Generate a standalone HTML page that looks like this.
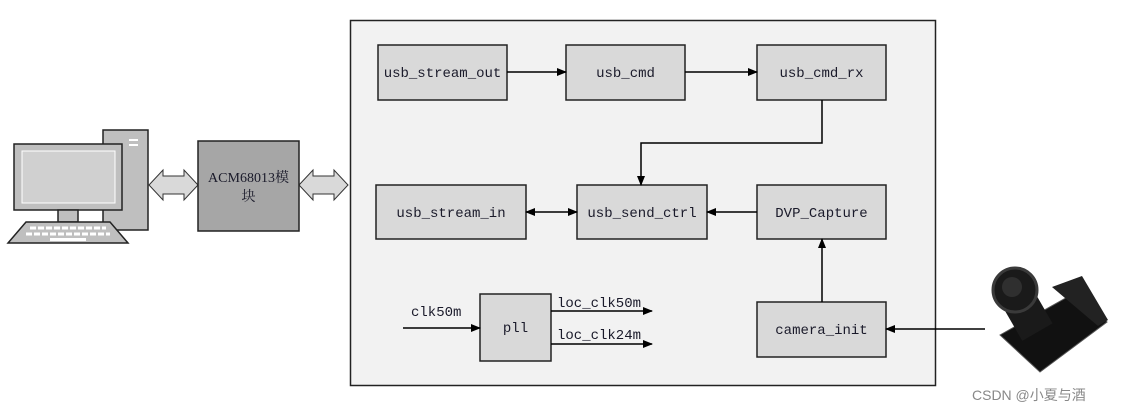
<!DOCTYPE html>
<html><head><meta charset="utf-8"><style>
body{margin:0;background:#fff;width:1123px;height:411px;overflow:hidden}
svg text{font-family:"Liberation Mono","Noto Serif CJK SC",monospace;font-size:14px;fill:#1a1a2a}
</style></head><body>
<svg width="1123" height="411" viewBox="0 0 1123 411" xmlns="http://www.w3.org/2000/svg">
<defs><marker id="a" markerWidth="10" markerHeight="8" refX="9" refY="4" orient="auto" markerUnits="userSpaceOnUse"><path d="M0,0 L10,4 L0,8 z" fill="#000"/></marker>
<marker id="b" markerWidth="10" markerHeight="8" refX="1" refY="4" orient="auto" markerUnits="userSpaceOnUse"><path d="M10,0 L0,4 L10,8 z" fill="#000"/></marker></defs>
<rect x="103" y="130" width="45" height="100" fill="#bfbfbf" stroke="#222" stroke-width="1.5"/>
<rect x="129" y="139" width="9" height="2" fill="#fff"/><rect x="129" y="144" width="9" height="2" fill="#fff"/>
<rect x="14" y="144" width="108" height="66" fill="#bfbfbf" stroke="#222" stroke-width="1.5"/>
<rect x="22" y="151" width="93" height="52" fill="#d0d0d0" stroke="#fff" stroke-width="1"/>
<rect x="58" y="210" width="20" height="12" fill="#bfbfbf" stroke="#222" stroke-width="1.5"/>
<path d="M26,222 L110,222 L128,243 L8,243 Z" fill="#bfbfbf" stroke="#222" stroke-width="1.5"/>
<path d="M30,228 L106,228 M26,234 L110,234" stroke="#fff" stroke-width="3" stroke-dasharray="6,2"/>
<rect x="50" y="238" width="36" height="3" fill="#fff"/>
<path d="M149,185 L163,170 L163,176 L184,176 L184,170 L198,185 L184,200 L184,194 L163,194 L163,200 Z" fill="#d9d9d9" stroke="#333"/>
<path d="M299,185 L313,170 L313,176 L334,176 L334,170 L348,185 L334,200 L334,194 L313,194 L313,200 Z" fill="#d9d9d9" stroke="#333"/>
<rect x="198" y="141" width="101" height="90" fill="#a6a6a6" stroke="#222" stroke-width="1.5"/>
<text x="248.5" y="182" text-anchor="middle" style="font-family:'Liberation Serif','Noto Serif CJK SC',serif;font-size:14px">ACM68013模</text>
<text x="248.5" y="201" text-anchor="middle" style="font-family:'Liberation Serif','Noto Serif CJK SC',serif;font-size:14px">块</text>
<rect x="350.5" y="20.5" width="585" height="365" fill="#f2f2f2" stroke="#222" stroke-width="1.5"/>
<g fill="#d9d9d9" stroke="#222" stroke-width="1.5">
<rect x="378" y="45" width="129" height="55"/>
<rect x="566" y="45" width="119" height="55"/>
<rect x="757" y="45" width="129" height="55"/>
<rect x="376" y="185" width="150" height="54"/>
<rect x="577" y="185" width="130" height="54"/>
<rect x="757" y="185" width="129" height="54"/>
<rect x="480" y="294" width="71" height="67"/>
<rect x="757" y="302" width="129" height="55"/>
</g>
<text x="442.5" y="77" text-anchor="middle">usb_stream_out</text>
<text x="625.5" y="77" text-anchor="middle">usb_cmd</text>
<text x="821.5" y="77" text-anchor="middle">usb_cmd_rx</text>
<text x="451" y="217" text-anchor="middle">usb_stream_in</text>
<text x="642" y="217" text-anchor="middle">usb_send_ctrl</text>
<text x="821.5" y="217" text-anchor="middle">DVP_Capture</text>
<text x="515.5" y="332" text-anchor="middle">pll</text>
<text x="821.5" y="334" text-anchor="middle">camera_init</text>
<g stroke="#000" stroke-width="1.5" fill="none">
<line x1="507" y1="72" x2="566" y2="72" marker-end="url(#a)"/>
<line x1="685" y1="72" x2="757" y2="72" marker-end="url(#a)"/>
<path d="M822,100 L822,143 L641,143 L641,185" marker-end="url(#a)"/>
<line x1="526" y1="212" x2="577" y2="212" marker-start="url(#b)" marker-end="url(#a)"/>
<line x1="757" y1="212" x2="707" y2="212" marker-end="url(#a)"/>
<line x1="822" y1="302" x2="822" y2="239" marker-end="url(#a)"/>
<line x1="985" y1="329" x2="886" y2="329" marker-end="url(#a)"/>
<line x1="403" y1="328" x2="480" y2="328" marker-end="url(#a)"/>
<line x1="551" y1="311" x2="652" y2="311" marker-end="url(#a)"/>
<line x1="551" y1="344" x2="652" y2="344" marker-end="url(#a)"/>
</g>
<text x="411" y="316">clk50m</text>
<text x="557" y="307">loc_clk50m</text>
<text x="557" y="339">loc_clk24m</text>
<path d="M1000,335 L1080,290 L1107,322 L1040,372 Z" fill="#111" stroke="#555"/>
<path d="M1052,287 L1082,276 L1108,320 L1098,326 Z" fill="#222"/>
<rect x="1010" y="295" width="35" height="40" fill="#1a1a1a" transform="rotate(-30 1027 315)"/>
<circle cx="1015" cy="290" r="22" fill="#1a1a1a" stroke="#3a3a3a" stroke-width="3"/>
<circle cx="1012" cy="287" r="10" fill="#2f2f2f"/>
<text x="972" y="400" style="font-family:'Liberation Sans','Noto Sans CJK SC',sans-serif;font-size:14px;fill:#888">CSDN @小夏与酒</text>
</svg>
</body></html>
